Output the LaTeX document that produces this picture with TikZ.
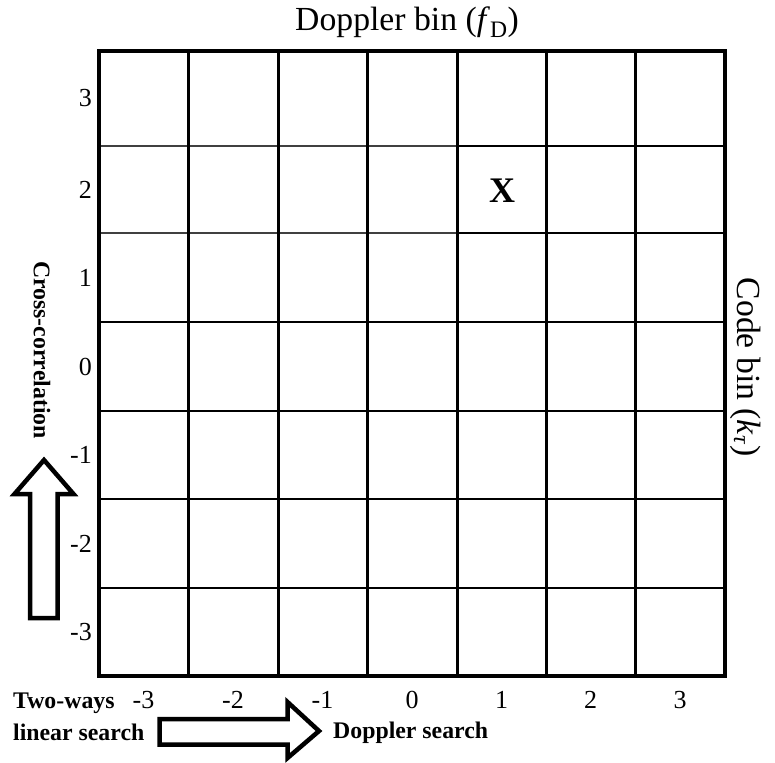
\documentclass[tikz,border=0pt]{standalone}
\usepackage{fontspec}
\setmainfont{Liberation Serif}
\begin{document}
\begin{tikzpicture}[x=1pt,y=-1pt,
  num/.style={font=\fontsize{26}{26}\selectfont, inner sep=0pt},
  lbl/.style={font=\fontsize{23.8}{24}\selectfont\bfseries, inner sep=0pt},
  ttl/.style={font=\fontsize{33.7}{34}\selectfont, inner sep=0pt},
  vline/.style={line width=3pt},
  hline/.style={line width=2.4pt},
  hthin/.style={line width=1.8pt, black!75},
  blockarrow/.style={line width=4.5pt, line join=miter, fill=white}]
\useasboundingbox (0,0) rectangle (775,762);
% grid
\foreach \y in {322,411,499,588}
  \draw[hline] (99,\y) -- (725,\y);
\foreach \y in {146,233}{
  \draw[hthin] (99,\y) -- (457,\y);
  \draw[hline] (457,\y) -- (725,\y);
}
\foreach \x in {188,278,367,457,546,635}
  \draw[vline] (\x,51) -- (\x,676);
\draw[line width=3.4pt] (99,51) rectangle (725,676);
% row labels
\foreach \v/\y [count=\i] in {3/98.5, 2/189.5, 1/277.5, 0/366.5, -1/455, -2/543.5, -3/632}
  \node[num, anchor=east] (r\i) at (92,\y) {\v};
% column labels
\foreach \v/\x [count=\i] in {-3/143.5, -2/233, -1/322.5, 0/412, 1/501.5, 2/590.5, 3/680}
  \node[num, anchor=base] (c\i) at (\x,708) {\v};
% mark
\node[font=\fontsize{36}{36}\selectfont\bfseries, inner sep=0pt] (mark) at (502,191) {X};
% titles
\node[ttl] (top) at (407,22) {Doppler bin (\textit{f}\textsubscript{D})};
\node[ttl, rotate=-90] (right) at (746,367) {Code bin (\textit{k}\textsubscript{\textit{τ}})};
% side labels
\node[lbl, rotate=-90] (cc) at (42,350) {Cross-correlation};
\node[lbl, anchor=base west] (two) at (13,708) {Two-ways};
\node[lbl, anchor=base west] (lin) at (13,740) {linear search};
\node[lbl, anchor=base west] (ds) at (333,738) {Doppler search};
% block arrows
\draw[blockarrow] (30,618) -- (30,494) -- (14.5,494) -- (44,460) -- (73.5,494) -- (57.5,494) -- (57.5,618) -- cycle;
\draw[blockarrow] (159.5,719) -- (287.5,719) -- (287.5,702) -- (319,731) -- (287.5,758) -- (287.5,744.5) -- (159.5,744.5) -- cycle;
\end{tikzpicture}
\end{document}
